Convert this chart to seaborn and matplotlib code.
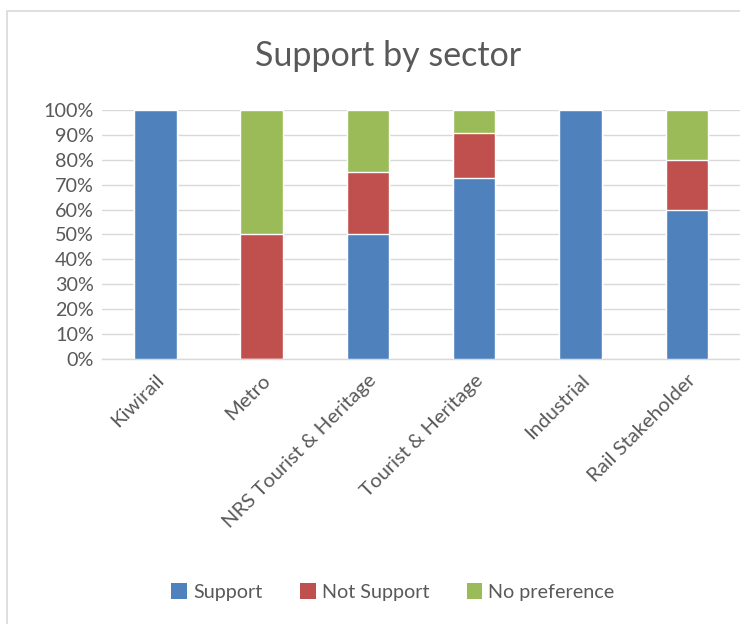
import matplotlib
matplotlib.use("Agg")
import matplotlib.pyplot as plt
from matplotlib.patches import Rectangle, Patch
from matplotlib.ticker import PercentFormatter
import seaborn as sns
import pandas as pd
import numpy as np

sectors = ["Kiwirail", "Metro", "NRS Tourist & Heritage", "Tourist & Heritage",
           "Industrial", "Rail Stakeholder"]
support = [1.0, 0.0, 0.50, 8 / 11, 1.0, 0.60]
not_support = [0.0, 0.50, 0.25, 2 / 11, 0.0, 0.20]
no_preference = [0.0, 0.50, 0.25, 1 / 11, 0.0, 0.20]

series_names = ["Support", "Not Support", "No preference"]
colors = ["#4F81BD", "#C0504D", "#9BBB59"]
text_color = "#595959"

sns.set_theme(style="white")
plt.rcParams["font.family"] = ["Lato", "DejaVu Sans"]

df = pd.DataFrame({
    "sector": sectors,
    "Support": support,
    "Not Support": not_support,
    "No preference": no_preference,
})
df["top_support"] = df["Support"]
df["top_not"] = df["Support"] + df["Not Support"]
df["top_nopref"] = df["top_not"] + df["No preference"]

fig = plt.figure(figsize=(7.4, 6.24), dpi=100)
ax = fig.add_axes([0.138, 0.4247, 0.862, 0.399])

# stacked bars: draw cumulative heights from the top segment down
for col, color in [("top_nopref", colors[2]), ("top_not", colors[1]), ("top_support", colors[0])]:
    sns.barplot(data=df, x="sector", y=col, color=color, width=0.4,
                saturation=1, ax=ax, zorder=3)

ax.set_ylim(0, 1)
ax.set_yticks(np.linspace(0, 1, 11))
ax.yaxis.set_major_formatter(PercentFormatter(1.0, decimals=0))
ax.yaxis.grid(True, color="#D9D9D9", linewidth=1.0, zorder=0)
ax.set_axisbelow(True)
ax.set_xlabel("")
ax.set_ylabel("")
for s in ["top", "right", "left"]:
    ax.spines[s].set_visible(False)
ax.spines["bottom"].set_color("#D9D9D9")
ax.spines["bottom"].set_linewidth(1.0)
ax.tick_params(axis="both", length=0, colors=text_color)
ax.tick_params(axis="y", pad=6, labelsize=14.2)
ax.tick_params(axis="x", pad=9, labelsize=14.6)
for lbl in ax.get_xticklabels():
    lbl.set_rotation(45)
    lbl.set_ha("right")
    lbl.set_rotation_mode("anchor")
    lbl.set_color(text_color)

fig.text(0.524, 0.91, "Support by sector", ha="center", va="center",
         fontsize=24.5, color=text_color)

handles = [Patch(facecolor=c, edgecolor="none") for c in colors]
fig.legend(handles, series_names, loc="center", bbox_to_anchor=(0.531, 0.051),
           ncol=3, frameon=False, fontsize=14.2, labelcolor=text_color,
           handlelength=0.8, handleheight=0.8, handletextpad=0.3, columnspacing=1.9)

# chart-area border
fig.patches.append(Rectangle((0.009, -0.1), 1.2, 0.1 + 0.983, transform=fig.transFigure,
                             fill=False, edgecolor="#D9D9D9", linewidth=1.2, zorder=0))

fig.savefig("out.png", dpi=100)
